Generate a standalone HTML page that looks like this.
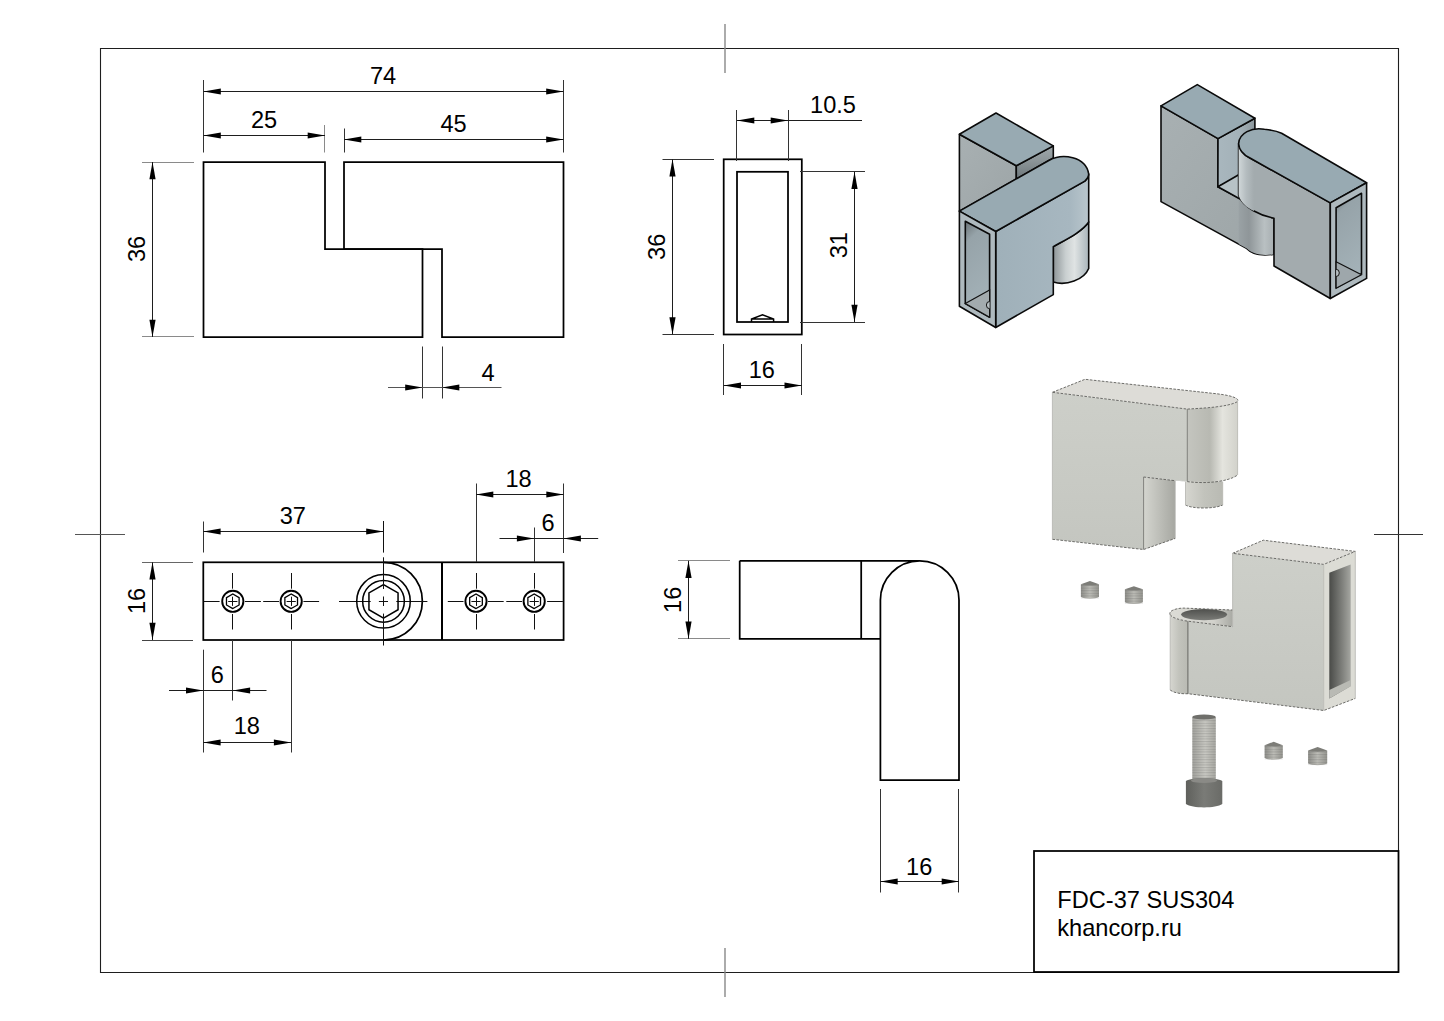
<!DOCTYPE html>
<html><head><meta charset="utf-8"><style>
html,body{margin:0;padding:0;background:#fff;width:1444px;height:1021px;overflow:hidden}
svg{display:block}
text{font-family:"Liberation Sans",sans-serif;fill:#000}
</style></head><body>
<svg width="1444" height="1021" viewBox="0 0 1444 1021">
<rect width="1444" height="1021" fill="#fff"/>
<defs>
<linearGradient id="cyl1" x1="0" x2="1" y1="0" y2="0">
 <stop offset="0" stop-color="#8d9598"/><stop offset="0.35" stop-color="#c9cfd0"/><stop offset="0.6" stop-color="#dfe3e3"/><stop offset="1" stop-color="#a9b5bb"/></linearGradient>
<linearGradient id="hole1" x1="0" x2="0.25" y1="0" y2="1">
 <stop offset="0" stop-color="#6a7276"/><stop offset="0.22" stop-color="#96a3a9"/><stop offset="1" stop-color="#a4b2b8"/></linearGradient>
<linearGradient id="rface1" x1="0" x2="1" y1="0" y2="0">
 <stop offset="0" stop-color="#9fb0b9"/><stop offset="0.8" stop-color="#a7b7c0"/><stop offset="1" stop-color="#b9c6cc"/></linearGradient>
<linearGradient id="lface1" x1="0" x2="1" y1="0" y2="1">
 <stop offset="0" stop-color="#a8b0b2"/><stop offset="1" stop-color="#9da5a7"/></linearGradient>
<linearGradient id="cyl3" x1="0" x2="1" y1="0" y2="0">
 <stop offset="0" stop-color="#c4c5bf"/><stop offset="0.45" stop-color="#b8b9b2"/><stop offset="0.7" stop-color="#e4e4de"/><stop offset="1" stop-color="#d2d2cb"/></linearGradient>
<linearGradient id="cyl3b" x1="0" x2="1" y1="0" y2="0">
 <stop offset="0" stop-color="#d6d6d0"/><stop offset="0.5" stop-color="#c2c3bc"/><stop offset="1" stop-color="#b9bab3"/></linearGradient>
<linearGradient id="step3" x1="0" x2="1" y1="0" y2="0">
 <stop offset="0" stop-color="#d4d5cf"/><stop offset="0.7" stop-color="#a8a9a3"/><stop offset="1" stop-color="#8a8b86"/></linearGradient>
<linearGradient id="hole3" x1="0" x2="1" y1="0" y2="0">
 <stop offset="0" stop-color="#4a4b48"/><stop offset="0.6" stop-color="#7f807c"/><stop offset="1" stop-color="#a5a6a1"/></linearGradient>
<linearGradient id="thr" x1="0" x2="1" y1="0" y2="0">
 <stop offset="0" stop-color="#8e8e89"/><stop offset="0.5" stop-color="#bdbdb7"/><stop offset="1" stop-color="#95958f"/></linearGradient>
<linearGradient id="cyl2" x1="0" x2="1" y1="0" y2="0">
 <stop offset="0" stop-color="#d0d7d9"/><stop offset="0.5" stop-color="#b4bcbf"/><stop offset="1" stop-color="#a3abae"/></linearGradient>
<linearGradient id="cyl2b" x1="0" x2="1" y1="0" y2="0">
 <stop offset="0" stop-color="#9aa2a5"/><stop offset="0.3" stop-color="#8f9699"/><stop offset="0.75" stop-color="#b9c0c2"/><stop offset="1" stop-color="#a9b0b3"/></linearGradient>
<linearGradient id="dark1" x1="0" x2="0" y1="0" y2="1">
 <stop offset="0" stop-color="#a0a9ac"/><stop offset="0.45" stop-color="#8c9598"/><stop offset="1" stop-color="#6c767a"/></linearGradient>
<linearGradient id="head" x1="0" x2="1" y1="0" y2="0">
 <stop offset="0" stop-color="#5f605c"/><stop offset="0.5" stop-color="#7a7b77"/><stop offset="1" stop-color="#6a6b67"/></linearGradient>
<linearGradient id="front3" x1="0" x2="0" y1="0" y2="1">
 <stop offset="0" stop-color="#cdcfc9"/><stop offset="1" stop-color="#c4c6c0"/></linearGradient>
<linearGradient id="lowtop" x1="0" x2="1" y1="0" y2="0">
 <stop offset="0" stop-color="#dcdcd6"/><stop offset="0.7" stop-color="#d2d2cc"/><stop offset="1" stop-color="#a9aaa4"/></linearGradient>
<linearGradient id="hole3b" x1="0" x2="0" y1="0" y2="1">
 <stop offset="0" stop-color="#4f504d"/><stop offset="1" stop-color="#7a7b77"/></linearGradient>
<linearGradient id="notch2" x1="0" x2="1" y1="0" y2="0">
 <stop offset="0" stop-color="#a9b7be"/><stop offset="0.6" stop-color="#a3b1b8"/><stop offset="1" stop-color="#8d989d"/></linearGradient>
<linearGradient id="thrb" x1="0" x2="1" y1="0" y2="0">
 <stop offset="0" stop-color="#a3a39e"/><stop offset="0.55" stop-color="#c9c9c3"/><stop offset="1" stop-color="#a9a9a3"/></linearGradient>
<pattern id="threads" width="4" height="2.6" patternUnits="userSpaceOnUse"><rect width="4" height="1.1" fill="#555" fill-opacity="0.22"/></pattern>
</defs>
<path d="M959.4,134.3 L1016.3,165.8 L1016.3,178.9 L959.4,211.1 Z" fill="url(#lface1)" stroke="#0a0a0a" stroke-width="1.6" stroke-linejoin="round"/>
<path d="M1016.3,165.8 L1053.3,145.9 L1053.3,158 L1016.3,178.9 Z" fill="url(#dark1)" stroke="#0a0a0a" stroke-width="1.6" stroke-linejoin="round"/>
<path d="M996,113 L1053.3,145.9 L1016.3,165.8 L959.4,134.3 Z" fill="#98aab2" stroke="#0a0a0a" stroke-width="1.6" stroke-linejoin="round"/>
<path d="M1053.3,246.6 C1065,240 1082,232 1088.7,222 L1088.7,268.5 C1084,280 1066,286 1053.3,282 Z" fill="url(#cyl1)" stroke="#0a0a0a" stroke-width="1.6" stroke-linejoin="round"/>
<path d="M995.7,231.5 L1084.8,181.1 C1087,179 1088.7,176 1088.7,174 L1088.7,222 C1082,232 1065,240 1053.3,246.6 L1053.3,294.6 L995.7,327.5 Z" fill="url(#rface1)" stroke="#0a0a0a" stroke-width="1.6" stroke-linejoin="round"/>
<path d="M959.4,211.1 L1049.2,160.3 C1062,153 1086,156 1088.7,174 C1088.7,176 1087,179 1084.8,181.1 L995.7,231.5 Z" fill="#98aab2" stroke="#0a0a0a" stroke-width="1.6" stroke-linejoin="round"/>
<path d="M959.4,211.1 L995.7,231.5 L995.7,327.5 L959.4,306.3 Z" fill="#aeb9be" stroke="#0a0a0a" stroke-width="1.6" stroke-linejoin="round"/>
<path d="M965.3,221.3 L989.6,234.3 L989.6,317.2 L965.3,303.5 Z" fill="url(#hole1)" stroke="#0a0a0a" stroke-width="1.6" stroke-linejoin="round"/>
<path d="M965.3,303.5 L989.6,290 L989.6,317.2 Z" fill="#a3abae" stroke="#111" stroke-width="1.2"/>
<path d="M989.6,301.5 A3.2,3.6 0 0 0 989.6,308.7" fill="#b8c0c3" stroke="#111" stroke-width="1"/>
<path d="M1161,105.9 L1218,138.6 L1217.9,186.8 L1273,216 L1273,254.4 C1262,256 1252,254 1246.9,248.6 L1161,201.6 Z" fill="url(#lface1)" stroke="#0a0a0a" stroke-width="1.6" stroke-linejoin="round"/>
<path d="M1238.7,187.5 C1241,196 1247,202 1252.8,203.9 L1273,216 L1273,254.4 C1262,256 1252,254 1246.9,248.6 L1238.7,244 Z" fill="url(#cyl2b)"/>
<path d="M1218,138.6 L1254.9,118.2 L1254.9,170 L1217.9,186.8 Z" fill="url(#notch2)" stroke="#0a0a0a" stroke-width="1.6" stroke-linejoin="round"/>
<path d="M1217.9,186.8 L1240,174 L1262,186 L1240,199 Z" fill="#b7c2c6" stroke="#0a0a0a" stroke-width="1.6" stroke-linejoin="round"/>
<path d="M1197.3,84.6 L1254.9,118.2 L1218,138.6 L1161,105.9 Z" fill="#98aab2" stroke="#0a0a0a" stroke-width="1.6" stroke-linejoin="round"/>
<path d="M1238.6,143.7 L1238.6,195.3 C1243,208 1262,216 1274,218.2 L1274,266 L1330.3,298.5 L1330.3,202.9 L1250,158 C1244,155 1239,150 1238.6,143.7 Z" fill="#a3abae" stroke="#0a0a0a" stroke-width="1.6" stroke-linejoin="round"/>
<path d="M1238.6,146 L1238.6,195.3 C1241,203 1247,208 1254,211 L1254,162 C1246,158 1240,153 1238.6,146 Z" fill="url(#cyl2)"/>
<path d="M1238.6,143.7 C1239,133 1252,127 1264.4,129.3 C1272,130 1278,131.5 1281.6,133.2 L1366.6,182.8 L1330.3,202.9 L1250,158 C1244,155 1239,150 1238.6,143.7 Z" fill="#98aab2" stroke="#0a0a0a" stroke-width="1.6" stroke-linejoin="round"/>
<path d="M1330.3,202.9 L1366.6,182.8 L1366.6,278.4 L1330.3,298.5 Z" fill="#aeb9be" stroke="#0a0a0a" stroke-width="1.6" stroke-linejoin="round"/>
<path d="M1336.1,207.7 L1361.5,193.3 L1361.5,273.6 L1336.1,287.9 Z" fill="url(#hole1)" stroke="#0a0a0a" stroke-width="1.6" stroke-linejoin="round"/>
<path d="M1336.1,261.7 L1361.5,274.7 L1336.1,288.3 Z" fill="#9ea7ab" stroke="#111" stroke-width="1.2"/>
<path d="M1336.1,269.3 A3.2,3.6 0 0 1 1336.1,276.5" fill="#b8c0c3" stroke="#111" stroke-width="1"/>
<path d="M1187.3,481.6 L1143.6,477 L1143.6,549.5 L1175.2,538.4 L1175.2,480.7 Z" fill="url(#step3)"/>
<path d="M1052.4,392.3 L1187.3,409.1 L1187.3,481.6 L1143.6,477 L1143.6,549.5 L1052.4,539.3 Z" fill="url(#front3)"/>
<path d="M1187.3,409.1 C1205,408 1228,407 1237.6,401.6 L1237.6,475 C1228,482 1205,484 1187.3,481.6 Z" fill="url(#cyl3)"/>
<path d="M1085,379.3 L1212.4,393.3 C1230,395 1240,398 1237.6,401.6 C1228,407 1205,408 1187.3,409.1 L1052.4,392.3 Z" fill="#dddcd7"/>
<path d="M1185.5,481.6 L1222.7,481.6 L1222.7,505 C1215,509 1192,509 1185.5,505 Z" fill="url(#cyl3b)"/>
<path d="M1052.4,392.3 L1085,379.3 L1212.4,393.3 C1230,395 1240,398 1237.6,401.6 C1228,407 1205,408 1187.3,409.1 L1052.4,392.3" fill="none" stroke="#5f5f5b" stroke-width="0.9" stroke-dasharray="2.6 1.4"/>
<path d="M1052.4,539.3 L1143.6,549.5 L1175.2,538.4 M1143.6,477 L1175.2,480.7 M1187.3,481.6 C1205,484 1228,482 1237.6,475 M1185.5,505 C1192,509 1215,509 1222.7,505" fill="none" stroke="#5f5f5b" stroke-width="0.9" stroke-dasharray="2.6 1.4"/>
<path d="M1052.4,392.3 V539.3 M1237.6,401.6 V475 M1175.2,480.7 V538.4 M1185.5,481.6 V505 M1222.7,481.6 V505" stroke="#b4b4ae" stroke-width="0.8"/>
<path d="M1187.3,409.1 V481.6 M1143.6,477 V549.5" stroke="#6a6a66" stroke-width="0.8"/>
<path d="M1232.6,553.3 L1323.7,564.4 L1323.7,710.5 L1187.9,693.7 L1187.9,621.2 L1232.6,626.7 Z" fill="url(#front3)"/>
<path d="M1263.3,540.2 L1355.3,551.4 L1323.7,564.4 L1232.6,553.3 Z" fill="#dddcd7"/>
<path d="M1323.7,564.4 L1355.3,551.4 L1355.3,698.4 L1323.7,710.5 Z" fill="#dcdcd5"/>
<path d="M1329.3,572.8 L1350.7,564.4 L1350.7,686.3 L1329.3,698.4 Z" fill="url(#hole3)"/>
<path d="M1329.3,698.4 L1329.3,690 L1350.7,680 L1350.7,686.3 Z" fill="#b9bab4"/>
<path d="M1170.2,614.7 L1170.2,690 C1174,693 1181,694 1187.9,693.7 L1187.9,621.2 C1180,620 1172,618 1170.2,614.7 Z" fill="url(#cyl3b)"/>
<path d="M1170.2,614.7 C1168,611 1176,608 1184.2,608.1 L1232.6,610 L1232.6,626.7 L1187.9,621.2 C1180,620 1172,618 1170.2,614.7 Z" fill="url(#lowtop)"/>
<ellipse cx="1204.1" cy="614.6" rx="23" ry="5.6" fill="url(#hole3b)"/>
<path d="M1232.6,553.3 L1263.3,540.2 L1355.3,551.4 L1323.7,564.4 L1232.6,553.3 M1170.2,690 C1174,693 1181,694 1187.9,693.7 L1323.7,710.5 L1355.3,698.4 M1170.2,614.7 C1168,611 1176,608 1184.2,608.1 L1232.6,610 M1170.2,614.7 C1172,618 1180,620 1187.9,621.2 L1232.6,626.7" fill="none" stroke="#5f5f5b" stroke-width="0.9" stroke-dasharray="2.6 1.4"/>
<path d="M1232.6,553.3 V626.7 M1323.7,564.4 V710.5 M1170.2,614.7 V690 M1355.3,551.4 V698.4" stroke="#b4b4ae" stroke-width="0.8"/>
<path d="M1187.9,621.2 V693.7" stroke="#5a5a56" stroke-width="0.9"/>
<path d="M1080.9,584.3 L1080.9,596.9 C1084.9,599.1999999999999 1095,599.1999999999999 1099,596.9 L1099,584.3 Z" fill="url(#thr)"/><rect x="1080.9" y="584.3" width="18.09999999999991" height="14.100000000000023" fill="url(#threads)"/><path d="M1080.9,584.3 L1089.95,580.9 L1099,584.3 C1095,585.9 1084.9,585.9 1080.9,584.3 Z" fill="#7d7d78"/>
<path d="M1124.9,589.3 L1124.9,602.2 C1128.9,604.5 1138.9,604.5 1142.9,602.2 L1142.9,589.3 Z" fill="url(#thr)"/><rect x="1124.9" y="589.3" width="18.0" height="14.400000000000091" fill="url(#threads)"/><path d="M1124.9,589.3 L1133.9,586.2 L1142.9,589.3 C1138.9,590.9 1128.9,590.9 1124.9,589.3 Z" fill="#7d7d78"/>
<path d="M1264.6,745.3 L1264.6,757.9 C1268.6,760.1999999999999 1278.8,760.1999999999999 1282.8,757.9 L1282.8,745.3 Z" fill="url(#thr)"/><rect x="1264.6" y="745.3" width="18.200000000000045" height="14.100000000000023" fill="url(#threads)"/><path d="M1264.6,745.3 L1273.6999999999998,741.7 L1282.8,745.3 C1278.8,746.9 1268.6,746.9 1264.6,745.3 Z" fill="#7d7d78"/>
<path d="M1308.1,750.5 L1308.1,763.6 C1312.1,765.9 1323.2,765.9 1327.2,763.6 L1327.2,750.5 Z" fill="url(#thr)"/><rect x="1308.1" y="750.5" width="19.100000000000136" height="14.600000000000023" fill="url(#threads)"/><path d="M1308.1,750.5 L1317.65,747 L1327.2,750.5 C1323.2,752.1 1312.1,752.1 1308.1,750.5 Z" fill="#7d7d78"/>
<rect x="1192.3" y="717" width="23.5" height="63" fill="url(#thrb)"/>
<rect x="1192.3" y="717" width="23.5" height="63" fill="url(#threads)"/>
<ellipse cx="1204" cy="717" rx="11.75" ry="2.6" fill="#6f6f6b"/>
<path d="M1185.9,781 L1185.9,804 C1192,808.5 1216,808.5 1222.3,804 L1222.3,781 C1216,777 1192,777 1185.9,781 Z" fill="url(#head)"/>
<ellipse cx="1204" cy="780.5" rx="13" ry="2.5" fill="#8a8a86"/>
<path d="M100.5,48.5 H1398.5 V972.5 H100.5 Z" fill="none" stroke="#1e1e1e" stroke-width="1.1"/>
<line x1="725" y1="24" x2="725" y2="73" stroke="#888" stroke-width="1.4" />
<line x1="725" y1="948" x2="725" y2="997" stroke="#888" stroke-width="1.4" />
<line x1="75" y1="534.5" x2="125" y2="534.5" stroke="#555" stroke-width="1" />
<line x1="1374" y1="534.5" x2="1423" y2="534.5" stroke="#333" stroke-width="1" />
<path d="M203.5,162 H325 V249 H422.5 V337 H203.5 Z" fill="none" stroke="#000" stroke-width="1.75"/>
<path d="M344,249 V162 H563.5 V337 H442 V249 Z" fill="none" stroke="#000" stroke-width="1.75"/>
<line x1="203.5" y1="80" x2="203.5" y2="152.5" stroke="#333" stroke-width="1" />
<line x1="563.5" y1="80" x2="563.5" y2="152.5" stroke="#333" stroke-width="1" />
<line x1="324.5" y1="125" x2="324.5" y2="152.5" stroke="#8a8a8a" stroke-width="1" />
<line x1="344.5" y1="128.5" x2="344.5" y2="152.5" stroke="#333" stroke-width="1" />
<line x1="203.5" y1="91.5" x2="563.5" y2="91.5" stroke="#1e1e1e" stroke-width="1" />
<polygon points="203.5,91.5 220.80,88.40 220.80,94.60" fill="#000"/>
<polygon points="563.5,91.5 546.20,94.60 546.20,88.40" fill="#000"/>
<text transform="translate(383,83.8) scale(1,1.035)" font-size="23.6" text-anchor="middle">74</text>
<line x1="203.5" y1="135.5" x2="325" y2="135.5" stroke="#1e1e1e" stroke-width="1" />
<polygon points="203.5,135.5 220.80,132.40 220.80,138.60" fill="#000"/>
<polygon points="325,135.5 307.70,138.60 307.70,132.40" fill="#000"/>
<text transform="translate(264,128) scale(1,1.035)" font-size="23.6" text-anchor="middle">25</text>
<line x1="344" y1="139.5" x2="563.5" y2="139.5" stroke="#1e1e1e" stroke-width="1" />
<polygon points="344,139.5 361.30,136.40 361.30,142.60" fill="#000"/>
<polygon points="563.5,139.5 546.20,142.60 546.20,136.40" fill="#000"/>
<text transform="translate(453.5,131.8) scale(1,1.035)" font-size="23.6" text-anchor="middle">45</text>
<line x1="142" y1="162.5" x2="194" y2="162.5" stroke="#8a8a8a" stroke-width="1" />
<line x1="142" y1="336.5" x2="194" y2="336.5" stroke="#8a8a8a" stroke-width="1" />
<line x1="152.5" y1="162" x2="152.5" y2="337" stroke="#1e1e1e" stroke-width="1" />
<polygon points="152.5,162 155.60,179.30 149.40,179.30" fill="#000"/>
<polygon points="152.5,337 149.40,319.70 155.60,319.70" fill="#000"/>
<text transform="translate(145.3,249) rotate(-90) scale(1,1.035)" font-size="23.6" text-anchor="middle">36</text>
<line x1="422.5" y1="346.5" x2="422.5" y2="398.5" stroke="#333" stroke-width="1" />
<line x1="442.5" y1="346.5" x2="442.5" y2="398.5" stroke="#333" stroke-width="1" />
<line x1="388" y1="387.5" x2="501.5" y2="387.5" stroke="#555" stroke-width="1" />
<polygon points="422.5,387.5 405.20,390.60 405.20,384.40" fill="#000"/>
<polygon points="442,387.5 459.30,384.40 459.30,390.60" fill="#000"/>
<text transform="translate(488,380.7) scale(1,1.035)" font-size="23.6" text-anchor="middle">4</text>
<rect x="723.7" y="159.3" width="78.1" height="175.2" fill="none" stroke="#000" stroke-width="1.75"/>
<rect x="737" y="171.8" width="51" height="150.2" fill="none" stroke="#000" stroke-width="1.75"/>
<path d="M751.5,322 V319 L762.5,314.7 L773.6,319 V322 M751.5,319 H773.6" fill="none" stroke="#000" stroke-width="1.5"/>
<line x1="736.5" y1="110" x2="736.5" y2="161" stroke="#333" stroke-width="1" />
<line x1="788.5" y1="110" x2="788.5" y2="161" stroke="#333" stroke-width="1" />
<line x1="737" y1="120.5" x2="862" y2="120.5" stroke="#1e1e1e" stroke-width="1" />
<polygon points="737,120.5 754.30,117.40 754.30,123.60" fill="#000"/>
<polygon points="788,120.5 770.70,123.60 770.70,117.40" fill="#000"/>
<text transform="translate(833,112.9) scale(1,1.035)" font-size="23.6" text-anchor="middle">10.5</text>
<line x1="662.5" y1="159.5" x2="714" y2="159.5" stroke="#333" stroke-width="1" />
<line x1="662.5" y1="334.5" x2="714" y2="334.5" stroke="#333" stroke-width="1" />
<line x1="672.5" y1="159.3" x2="672.5" y2="334.5" stroke="#1e1e1e" stroke-width="1" />
<polygon points="672.5,159.3 675.60,176.60 669.40,176.60" fill="#000"/>
<polygon points="672.5,334.5 669.40,317.20 675.60,317.20" fill="#000"/>
<text transform="translate(664.5,246.8) rotate(-90) scale(1,1.035)" font-size="23.6" text-anchor="middle">36</text>
<line x1="800" y1="171.5" x2="865" y2="171.5" stroke="#333" stroke-width="1" />
<line x1="800" y1="322.5" x2="865" y2="322.5" stroke="#333" stroke-width="1" />
<line x1="854.5" y1="171.8" x2="854.5" y2="322" stroke="#1e1e1e" stroke-width="1" />
<polygon points="854.5,171.8 857.60,189.10 851.40,189.10" fill="#000"/>
<polygon points="854.5,322 851.40,304.70 857.60,304.70" fill="#000"/>
<text transform="translate(847,245.2) rotate(-90) scale(1,1.035)" font-size="23.6" text-anchor="middle">31</text>
<line x1="723.5" y1="344" x2="723.5" y2="395" stroke="#333" stroke-width="1" />
<line x1="801.5" y1="344" x2="801.5" y2="395" stroke="#333" stroke-width="1" />
<line x1="723.7" y1="385.5" x2="801.8" y2="385.5" stroke="#1e1e1e" stroke-width="1" />
<polygon points="723.7,385.5 741.00,382.40 741.00,388.60" fill="#000"/>
<polygon points="801.8,385.5 784.50,388.60 784.50,382.40" fill="#000"/>
<text transform="translate(761.8,377.8) scale(1,1.035)" font-size="23.6" text-anchor="middle">16</text>
<path d="M383.5,562.3 A38.85,38.85 0 0 1 383.5,640" fill="none" stroke="#000" stroke-width="1.75"/>
<rect x="203.3" y="562.3" width="360.3" height="77.7" fill="none" stroke="#000" stroke-width="1.75"/>
<line x1="442" y1="562.3" x2="442" y2="640" stroke="#000" stroke-width="2" />
<circle cx="232.8" cy="601.3" r="10.6" fill="none" stroke="#000" stroke-width="1.9"/>
<polygon points="232.80,608.60 226.48,604.95 226.48,597.65 232.80,594.00 239.12,597.65 239.12,604.95" fill="none" stroke="#000" stroke-width="1.3"/>
<line x1="228.20000000000002" y1="601.5" x2="237.4" y2="601.5" stroke="#111" stroke-width="1" />
<line x1="232.5" y1="596.6999999999999" x2="232.5" y2="605.9" stroke="#111" stroke-width="1" />
<line x1="232.5" y1="573" x2="232.5" y2="588.7" stroke="#111" stroke-width="1" />
<line x1="232.5" y1="614" x2="232.5" y2="629.5" stroke="#111" stroke-width="1" />
<circle cx="291.2" cy="601.3" r="10.6" fill="none" stroke="#000" stroke-width="1.9"/>
<polygon points="291.20,608.60 284.88,604.95 284.88,597.65 291.20,594.00 297.52,597.65 297.52,604.95" fill="none" stroke="#000" stroke-width="1.3"/>
<line x1="286.59999999999997" y1="601.5" x2="295.8" y2="601.5" stroke="#111" stroke-width="1" />
<line x1="291.5" y1="596.6999999999999" x2="291.5" y2="605.9" stroke="#111" stroke-width="1" />
<line x1="291.5" y1="573" x2="291.5" y2="588.7" stroke="#111" stroke-width="1" />
<line x1="291.5" y1="614" x2="291.5" y2="629.5" stroke="#111" stroke-width="1" />
<circle cx="476" cy="601.3" r="10.6" fill="none" stroke="#000" stroke-width="1.9"/>
<polygon points="476.00,608.60 469.68,604.95 469.68,597.65 476.00,594.00 482.32,597.65 482.32,604.95" fill="none" stroke="#000" stroke-width="1.3"/>
<line x1="471.4" y1="601.5" x2="480.6" y2="601.5" stroke="#111" stroke-width="1" />
<line x1="476.5" y1="596.6999999999999" x2="476.5" y2="605.9" stroke="#111" stroke-width="1" />
<line x1="476.5" y1="573" x2="476.5" y2="588.7" stroke="#111" stroke-width="1" />
<line x1="476.5" y1="614" x2="476.5" y2="629.5" stroke="#111" stroke-width="1" />
<circle cx="534.2" cy="601.3" r="10.6" fill="none" stroke="#000" stroke-width="1.9"/>
<polygon points="534.20,608.60 527.88,604.95 527.88,597.65 534.20,594.00 540.52,597.65 540.52,604.95" fill="none" stroke="#000" stroke-width="1.3"/>
<line x1="529.6" y1="601.5" x2="538.8000000000001" y2="601.5" stroke="#111" stroke-width="1" />
<line x1="534.5" y1="596.6999999999999" x2="534.5" y2="605.9" stroke="#111" stroke-width="1" />
<line x1="534.5" y1="573" x2="534.5" y2="588.7" stroke="#111" stroke-width="1" />
<line x1="534.5" y1="614" x2="534.5" y2="629.5" stroke="#111" stroke-width="1" />
<line x1="203.9" y1="601.5" x2="219.6" y2="601.5" stroke="#111" stroke-width="1" />
<line x1="244.9" y1="601.5" x2="260.9" y2="601.5" stroke="#111" stroke-width="1" />
<line x1="263.2" y1="601.5" x2="279" y2="601.5" stroke="#111" stroke-width="1" />
<line x1="303.4" y1="601.5" x2="319.1" y2="601.5" stroke="#111" stroke-width="1" />
<line x1="339" y1="601.5" x2="370.7" y2="601.5" stroke="#111" stroke-width="1" />
<line x1="378.9" y1="601.5" x2="388" y2="601.5" stroke="#111" stroke-width="1" />
<line x1="396.3" y1="601.5" x2="427.4" y2="601.5" stroke="#111" stroke-width="1" />
<line x1="447.8" y1="601.5" x2="463.5" y2="601.5" stroke="#111" stroke-width="1" />
<line x1="487.9" y1="601.5" x2="503.7" y2="601.5" stroke="#111" stroke-width="1" />
<line x1="506.3" y1="601.5" x2="522.1" y2="601.5" stroke="#111" stroke-width="1" />
<line x1="547.1" y1="601.5" x2="562.9" y2="601.5" stroke="#111" stroke-width="1" />
<circle cx="383.5" cy="601.3" r="26.8" fill="none" stroke="#000" stroke-width="1.5"/>
<circle cx="383.5" cy="601.3" r="20.85" fill="none" stroke="#000" stroke-width="1.5"/>
<polygon points="383.50,618.10 368.95,609.70 368.95,592.90 383.50,584.50 398.05,592.90 398.05,609.70" fill="none" stroke="#000" stroke-width="1.5"/>
<line x1="383.5" y1="521" x2="383.5" y2="552.6" stroke="#111" stroke-width="1" />
<line x1="383.5" y1="557.3" x2="383.5" y2="589" stroke="#111" stroke-width="1" />
<line x1="383.5" y1="596.5" x2="383.5" y2="606" stroke="#111" stroke-width="1" />
<line x1="383.5" y1="613.6" x2="383.5" y2="645.5" stroke="#111" stroke-width="1" />
<line x1="203.5" y1="521.5" x2="203.5" y2="552.5" stroke="#333" stroke-width="1" />
<line x1="203.3" y1="531.5" x2="383.5" y2="531.5" stroke="#1e1e1e" stroke-width="1" />
<polygon points="203.3,531.5 220.60,528.40 220.60,534.60" fill="#000"/>
<polygon points="383.5,531.5 366.20,534.60 366.20,528.40" fill="#000"/>
<text transform="translate(292.8,524) scale(1,1.035)" font-size="23.6" text-anchor="middle">37</text>
<line x1="476.5" y1="483.5" x2="476.5" y2="562" stroke="#333" stroke-width="1" />
<line x1="563.5" y1="483.5" x2="563.5" y2="553" stroke="#333" stroke-width="1" />
<line x1="476" y1="494.5" x2="563.6" y2="494.5" stroke="#1e1e1e" stroke-width="1" />
<polygon points="476,494.5 493.30,491.40 493.30,497.60" fill="#000"/>
<polygon points="563.6,494.5 546.30,497.60 546.30,491.40" fill="#000"/>
<text transform="translate(518.6,486.8) scale(1,1.035)" font-size="23.6" text-anchor="middle">18</text>
<line x1="534.5" y1="527.5" x2="534.5" y2="562" stroke="#333" stroke-width="1" />
<line x1="499.5" y1="538.5" x2="598.2" y2="538.5" stroke="#1e1e1e" stroke-width="1" />
<polygon points="534.2,538.5 516.90,541.60 516.90,535.40" fill="#000"/>
<polygon points="563.6,538.5 580.90,535.40 580.90,541.60" fill="#000"/>
<text transform="translate(548,531) scale(1,1.035)" font-size="23.6" text-anchor="middle">6</text>
<line x1="142" y1="562.5" x2="193" y2="562.5" stroke="#666" stroke-width="1" />
<line x1="142" y1="640.5" x2="193" y2="640.5" stroke="#444" stroke-width="1" />
<line x1="152.5" y1="562.3" x2="152.5" y2="640" stroke="#1e1e1e" stroke-width="1" />
<polygon points="152.5,562.3 155.60,579.60 149.40,579.60" fill="#000"/>
<polygon points="152.5,640 149.40,622.70 155.60,622.70" fill="#000"/>
<text transform="translate(145,601) rotate(-90) scale(1,1.035)" font-size="23.6" text-anchor="middle">16</text>
<line x1="232.5" y1="640" x2="232.5" y2="700.5" stroke="#333" stroke-width="1" />
<line x1="203.5" y1="649.7" x2="203.5" y2="752.5" stroke="#333" stroke-width="1" />
<line x1="291.5" y1="640" x2="291.5" y2="752.5" stroke="#333" stroke-width="1" />
<line x1="169" y1="690.5" x2="266.5" y2="690.5" stroke="#1e1e1e" stroke-width="1" />
<polygon points="203.3,690.5 186.00,693.60 186.00,687.40" fill="#000"/>
<polygon points="232.8,690.5 250.10,687.40 250.10,693.60" fill="#000"/>
<text transform="translate(217.3,683.3) scale(1,1.035)" font-size="23.6" text-anchor="middle">6</text>
<line x1="203.3" y1="742.5" x2="291.2" y2="742.5" stroke="#1e1e1e" stroke-width="1" />
<polygon points="203.3,742.5 220.60,739.40 220.60,745.60" fill="#000"/>
<polygon points="291.2,742.5 273.90,745.60 273.90,739.40" fill="#000"/>
<text transform="translate(246.8,734) scale(1,1.035)" font-size="23.6" text-anchor="middle">18</text>
<path d="M739.7,560.8 H919.7 A39.3,39.3 0 0 1 959,600.1 V780.2 H880.4 V600.1 A39.3,39.3 0 0 1 919.7,560.8 M739.7,560.8 V638.8 H880.4 M861.2,560.8 V638.8" fill="none" stroke="#000" stroke-width="1.75"/>
<line x1="678" y1="560.5" x2="730" y2="560.5" stroke="#8a8a8a" stroke-width="1" />
<line x1="678" y1="638.5" x2="730" y2="638.5" stroke="#8a8a8a" stroke-width="1" />
<line x1="688.5" y1="560.8" x2="688.5" y2="638.8" stroke="#1e1e1e" stroke-width="1" />
<polygon points="688.5,560.8 691.60,578.10 685.40,578.10" fill="#000"/>
<polygon points="688.5,638.8 685.40,621.50 691.60,621.50" fill="#000"/>
<text transform="translate(680.5,599.8) rotate(-90) scale(1,1.035)" font-size="23.6" text-anchor="middle">16</text>
<line x1="880.5" y1="789" x2="880.5" y2="892.5" stroke="#333" stroke-width="1" />
<line x1="958.5" y1="789" x2="958.5" y2="892.5" stroke="#333" stroke-width="1" />
<line x1="880.4" y1="881.5" x2="959" y2="881.5" stroke="#1e1e1e" stroke-width="1" />
<polygon points="880.4,881.5 897.70,878.40 897.70,884.60" fill="#000"/>
<polygon points="959,881.5 941.70,884.60 941.70,878.40" fill="#000"/>
<text transform="translate(919.2,874.5) scale(1,1.035)" font-size="23.6" text-anchor="middle">16</text>
<rect x="1034" y="851" width="364.5" height="121" fill="none" stroke="#000" stroke-width="1.75"/>
<text x="1057.3" y="908.1" font-size="23.6">FDC-37 SUS304</text>
<text x="1057.3" y="936.3" font-size="23.6">khancorp.ru</text>
</svg>
</body></html>
